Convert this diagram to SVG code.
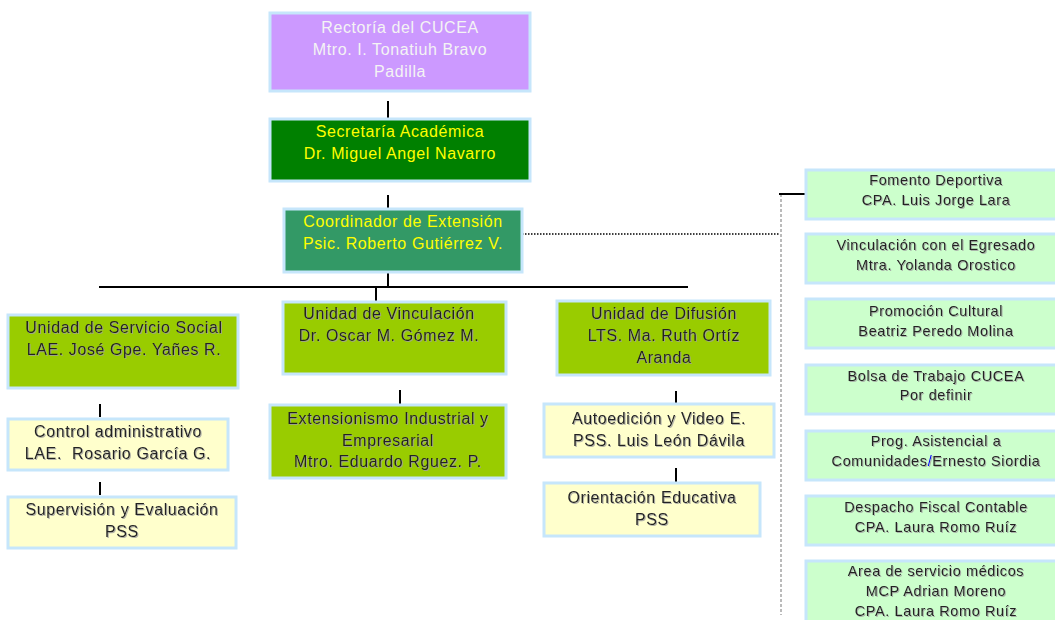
<svg xmlns="http://www.w3.org/2000/svg" width="1055" height="620" viewBox="0 0 1055 620">
<defs>
<filter id="sh" x="-5%" y="-20%" width="110%" height="140%"><feDropShadow dx="1" dy="1" stdDeviation="0" flood-color="#a0a0a0" flood-opacity="0.8"/></filter>
</defs>
<style>
.box{stroke:#c6e6fb;stroke-width:3}
.t{font-family:"Liberation Sans",Arial,sans-serif;font-size:16px;letter-spacing:0.6px;text-anchor:middle;fill:#222;filter:url(#sh)}
.s{font-family:"Liberation Sans",Arial,sans-serif;font-size:14.5px;letter-spacing:0.6px;text-anchor:middle;fill:#222;filter:url(#sh)}
.w{fill:#f4f4f4;filter:none}
.y{fill:#ffff00;filter:none}
.ln{stroke:#000;stroke-width:2;fill:none}
.purple{fill:#cc99ff}
.dg{fill:#008000}
.sg{fill:#339966}
.lg{fill:#99cc00}
.ly{fill:#ffffcc}
.pg{fill:#ccffcc}
</style>
<rect width="1055" height="620" fill="#fff"/>
<g id="connectors">
<line class="ln" x1="388" y1="101" x2="388" y2="118"/>
<line class="ln" x1="388" y1="195" x2="388" y2="210"/>
<line class="ln" x1="388" y1="272" x2="388" y2="287"/>
<line class="ln" x1="99" y1="287" x2="688" y2="287"/>
<line class="ln" x1="376" y1="287" x2="376" y2="301"/>
<line class="ln" x1="100" y1="404" x2="100" y2="417"/>
<line class="ln" x1="100" y1="482" x2="100" y2="495"/>
<line class="ln" x1="400" y1="390" x2="400" y2="404"/>
<line class="ln" x1="676" y1="391" x2="676" y2="404"/>
<line class="ln" x1="676" y1="468" x2="676" y2="482"/>
<line x1="522" y1="234" x2="780" y2="234" stroke="#000" stroke-width="1.5" stroke-dasharray="1.5,1.5"/>
<line x1="781" y1="194" x2="781" y2="615" stroke="#777" stroke-width="1" stroke-dasharray="3,2"/>
<line class="ln" x1="779" y1="194" x2="806" y2="194"/>
</g>
<g id="rectoria"><rect class="box purple" x="270" y="13" width="260" height="78"/>
<text class="t w" x="400" y="33">Rectoría del CUCEA</text><text class="t w" x="400" y="55">Mtro. I. Tonatiuh Bravo</text><text class="t w" x="400" y="77">Padilla</text></g>
<g id="secretaria"><rect class="box dg" x="270" y="119" width="260" height="62"/>
<text class="t y" x="400" y="137">Secretaría Académica</text><text class="t y" x="400" y="159">Dr. Miguel Angel Navarro</text></g>
<g id="coordinador"><rect class="box sg" x="284" y="209" width="238" height="63"/>
<text class="t y" x="403" y="227">Coordinador de Extensión</text><text class="t y" x="403" y="249">Psic. Roberto Gutiérrez V.</text></g>
<g id="servicio-social"><rect class="box lg" x="8" y="315" width="230" height="73"/>
<text class="t" x="124" y="333">Unidad de Servicio Social</text><text class="t" x="124" y="355">LAE. José Gpe. Yañes R.</text></g>
<g id="vinculacion"><rect class="box lg" x="283" y="302" width="223" height="72"/>
<text class="t" x="389" y="319">Unidad de Vinculación</text><text class="t" x="389" y="341">Dr. Oscar M. Gómez M.</text></g>
<g id="difusion"><rect class="box lg" x="557" y="301" width="213" height="74"/>
<text class="t" x="664" y="319">Unidad de Difusión</text><text class="t" x="664" y="341">LTS. Ma. Ruth Ortíz</text><text class="t" x="664" y="363">Aranda</text></g>
<g id="control"><rect class="box ly" x="8" y="419" width="220" height="51"/>
<text class="t" x="118" y="437">Control administrativo</text><text class="t" x="118" y="459">LAE.&#160; Rosario García G.</text></g>
<g id="supervision"><rect class="box ly" x="8" y="497" width="228" height="51"/>
<text class="t" x="122" y="515">Supervisión y Evaluación</text><text class="t" x="122" y="537">PSS</text></g>
<g id="extensionismo"><rect class="box lg" x="270" y="405" width="236" height="73"/>
<text class="t" x="388" y="424">Extensionismo Industrial y</text><text class="t" x="388" y="446">Empresarial</text><text class="t" x="388" y="467">Mtro. Eduardo Rguez. P.</text></g>
<g id="autoedicion"><rect class="box ly" x="544" y="404" width="230" height="53"/>
<text class="t" x="659" y="424">Autoedición y Video E.</text><text class="t" x="659" y="446">PSS. Luis León Dávila</text></g>
<g id="orientacion"><rect class="box ly" x="544" y="483" width="216" height="53"/>
<text class="t" x="652" y="503">Orientación Educativa</text><text class="t" x="652" y="525">PSS</text></g>
<g id="fomento"><rect class="box pg" x="806" y="170" width="262" height="49"/>
<text class="s" x="936" y="185">Fomento Deportiva</text><text class="s" x="936" y="205">CPA. Luis Jorge Lara</text></g>
<g id="egresado"><rect class="box pg" x="806" y="234" width="262" height="49"/>
<text class="s" x="936" y="250">Vinculación con el Egresado</text><text class="s" x="936" y="270">Mtra. Yolanda Orostico</text></g>
<g id="promocion"><rect class="box pg" x="806" y="299" width="262" height="49"/>
<text class="s" x="936" y="316">Promoción Cultural</text><text class="s" x="936" y="336">Beatriz Peredo Molina</text></g>
<g id="bolsa"><rect class="box pg" x="806" y="365" width="262" height="49"/>
<text class="s" x="936" y="381">Bolsa de Trabajo CUCEA</text><text class="s" x="936" y="400">Por definir</text></g>
<g id="asistencial"><rect class="box pg" x="806" y="431" width="262" height="49"/>
<text class="s" x="936" y="446">Prog. Asistencial a</text><text class="s" x="936" y="466">Comunidades<tspan fill="#0000ff">/</tspan>Ernesto Siordia</text></g>
<g id="despacho"><rect class="box pg" x="806" y="496" width="262" height="49"/>
<text class="s" x="936" y="512">Despacho Fiscal Contable</text><text class="s" x="936" y="532">CPA. Laura Romo Ruíz</text></g>
<g id="medicos"><rect class="box pg" x="806" y="561" width="262" height="70"/>
<text class="s" x="936" y="576">Area de servicio médicos</text><text class="s" x="936" y="596">MCP Adrian Moreno</text><text class="s" x="936" y="616">CPA. Laura Romo Ruíz</text></g>
</svg>
